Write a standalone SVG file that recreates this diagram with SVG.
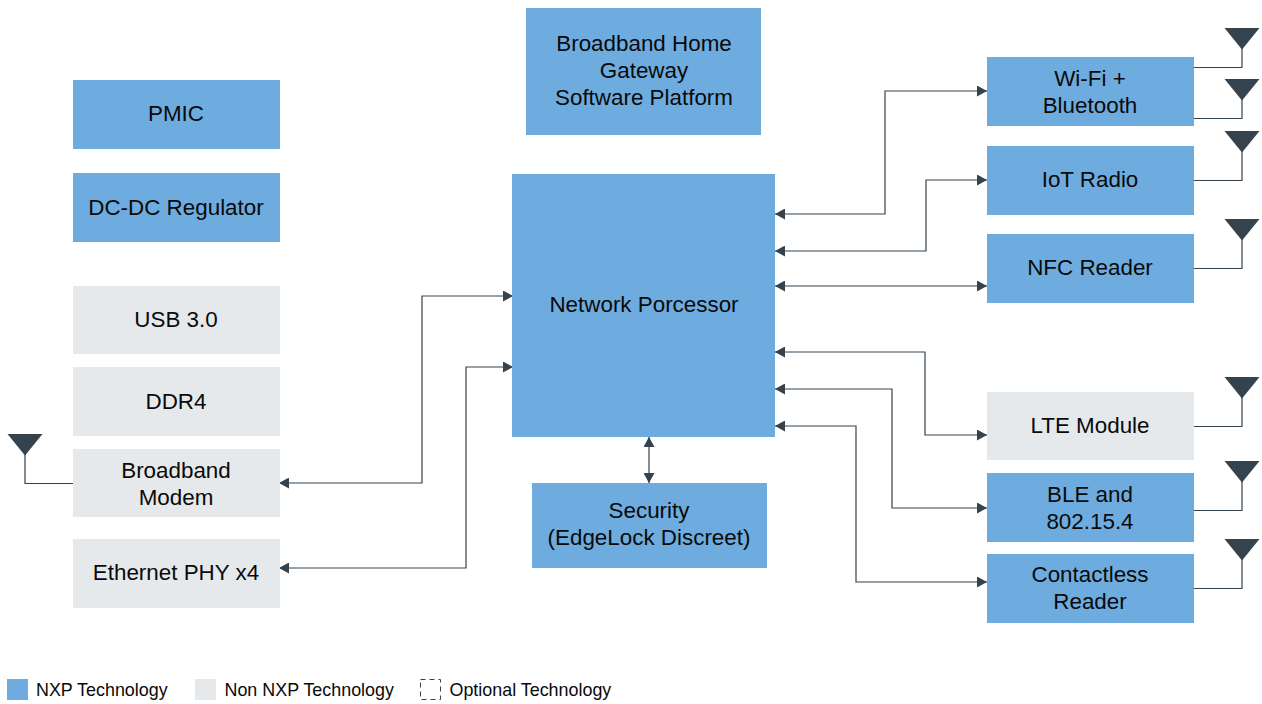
<svg xmlns="http://www.w3.org/2000/svg" width="1262" height="704" viewBox="0 0 1262 704">
<style>
text{font-family:"Liberation Sans",Arial,sans-serif;font-size:22.4px;fill:#0a0a0a;text-anchor:middle}
.b{fill:#6eacdf}.g{fill:#e5e9ec}
.c{fill:none;stroke:#35434e;stroke-width:1.2}
.l{font-size:17.9px;text-anchor:start}
.ant{fill:#35434e}
</style>
<defs>
<marker id="a" markerUnits="userSpaceOnUse" markerWidth="11" markerHeight="11" refX="10" refY="5.5" orient="auto-start-reverse"><path d="M0 0L10 5.5L0 11Z" fill="#35434e"/></marker>
</defs>
<rect width="1262" height="704" fill="#fff"/>
<g id="connectors" class="conn">
<path class="c" d="M775 214H885V91H987" marker-start="url(#a)" marker-end="url(#a)"/>
<path class="c" d="M775 251H926V180H987" marker-start="url(#a)" marker-end="url(#a)"/>
<path class="c" d="M775 286H987" marker-start="url(#a)" marker-end="url(#a)"/>
<path class="c" d="M775 352H925V435H987" marker-start="url(#a)" marker-end="url(#a)"/>
<path class="c" d="M775 389H892V508H987" marker-start="url(#a)" marker-end="url(#a)"/>
<path class="c" d="M775 426H856V582H987" marker-start="url(#a)" marker-end="url(#a)"/>
<path class="c" d="M649 437V483" marker-start="url(#a)" marker-end="url(#a)"/>
<path class="c" d="M279 483H422V296H513" marker-start="url(#a)" marker-end="url(#a)"/>
<path class="c" d="M279 568H466V367H513" marker-start="url(#a)" marker-end="url(#a)"/>
<path class="c" d="M1194 67.500H1242V40"/>
<path class="c" d="M1194 118.500H1242V92"/>
<path class="c" d="M1194 180.500H1242V144"/>
<path class="c" d="M1194 268.500H1242V232"/>
<path class="c" d="M1194 426.500H1242V390"/>
<path class="c" d="M1194 510.500H1242V474"/>
<path class="c" d="M1194 588.500H1242V552"/>
<path class="c" d="M73 483.500H25V446"/>
</g>
<g id="antennas">
<path class="ant" d="M1224.500 28H1259.500L1242 49.500Z"/>
<path class="ant" d="M1224.500 79H1259.500L1242 100.500Z"/>
<path class="ant" d="M1224.500 131H1259.500L1242 152.500Z"/>
<path class="ant" d="M1224.500 219H1259.500L1242 240.500Z"/>
<path class="ant" d="M1224.500 377H1259.500L1242 398.500Z"/>
<path class="ant" d="M1224.500 461H1259.500L1242 482.500Z"/>
<path class="ant" d="M1224.500 539H1259.500L1242 560.500Z"/>
<path class="ant" d="M7.500 434H42.500L25 455.500Z"/>
</g>
<g id="pmic"><rect class="b" x="73" y="80" width="207" height="69"/><text x="176" y="121">PMIC</text></g>
<g id="dcdc"><rect class="b" x="73" y="173" width="207" height="69"/><text x="176" y="215">DC-DC Regulator</text></g>
<g id="usb"><rect class="g" x="73" y="286" width="207" height="68"/><text x="176" y="327">USB 3.0</text></g>
<g id="ddr"><rect class="g" x="73" y="367" width="207" height="69"/><text x="176" y="409">DDR4</text></g>
<g id="modem"><rect class="g" x="73" y="449" width="207" height="68"/><text x="176" y="478">Broadband</text><text x="176" y="505">Modem</text></g>
<g id="eth"><rect class="g" x="73" y="539" width="207" height="69"/><text x="176" y="580">Ethernet PHY x4</text></g>
<g id="platform"><rect class="b" x="526" y="8" width="235" height="127"/><text x="644" y="51">Broadband Home</text><text x="644" y="78">Gateway</text><text x="644" y="105">Software Platform</text></g>
<g id="np"><rect class="b" x="512" y="174" width="263" height="263"/><text x="644" y="312">Network Porcessor</text></g>
<g id="sec"><rect class="b" x="532" y="483" width="235" height="85"/><text x="649" y="518">Security</text><text x="649" y="545">(EdgeLock Discreet)</text></g>
<g id="wifi"><rect class="b" x="987" y="57" width="207" height="69"/><text x="1090" y="86">Wi-Fi +</text><text x="1090" y="113">Bluetooth</text></g>
<g id="iot"><rect class="b" x="987" y="146" width="207" height="69"/><text x="1090" y="187">IoT Radio</text></g>
<g id="nfc"><rect class="b" x="987" y="234" width="207" height="69"/><text x="1090" y="275">NFC Reader</text></g>
<g id="lte"><rect class="g" x="987" y="392" width="207" height="68"/><text x="1090" y="433">LTE Module</text></g>
<g id="ble"><rect class="b" x="987" y="473" width="207" height="69"/><text x="1090" y="502">BLE and</text><text x="1090" y="529">802.15.4</text></g>
<g id="contactless"><rect class="b" x="987" y="554" width="207" height="69"/><text x="1090" y="582">Contactless</text><text x="1090" y="609">Reader</text></g>
<g id="legend">
<rect class="b" x="7" y="679" width="21" height="21"/><text class="l" x="36" y="696">NXP Technology</text>
<rect class="g" x="195" y="679" width="21" height="21"/><text class="l" x="224.500" y="696">Non NXP Technology</text>
<rect x="420.500" y="679.500" width="20" height="20" fill="none" stroke="#35434e" stroke-dasharray="5 4"/><text class="l" x="449.500" y="696">Optional Technology</text>
</g>
</svg>
